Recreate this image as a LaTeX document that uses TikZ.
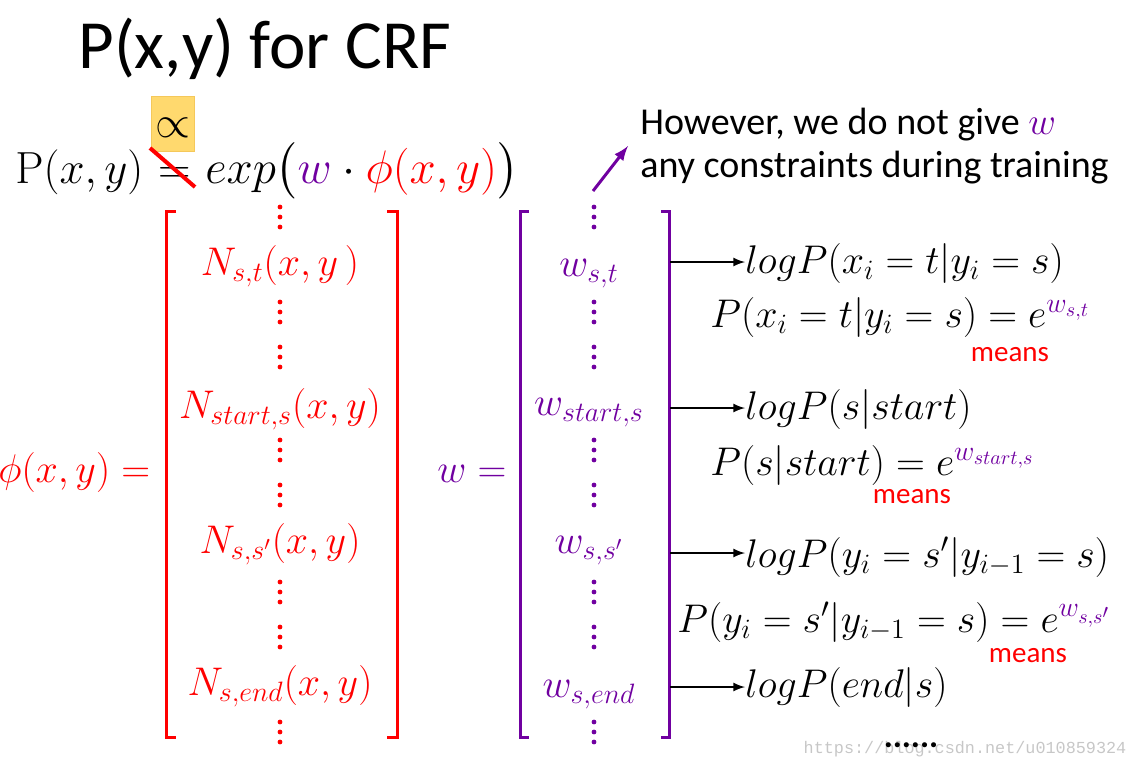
\documentclass[tikz,border=0pt]{standalone}
\usepackage{fix-cm}
\usepackage{amssymb}
\usepackage{amsmath}
\usepackage[no-math]{fontspec}
\usetikzlibrary{positioning}
\newfontfamily\calibri{Carlito}
\newfontfamily\wmfont{Liberation Mono}
\definecolor{crfred}{RGB}{255,0,0}
\definecolor{crfpurple}{RGB}{112,0,160}
\definecolor{boxyellow}{RGB}{255,217,110}
\definecolor{boxedge}{RGB}{245,200,90}

\begin{document}
\begin{tikzpicture}[x=0.5pt,y=-0.5pt,inner sep=0pt,
  bigmath/.style={font=\fontsize{22.5}{27}\selectfont},
  entry/.style={anchor=base,font=\fontsize{20}{24}\selectfont},
  sidemath/.style={anchor=base west,font=\fontsize{20}{24}\selectfont},
  meanslbl/.style={anchor=base,text=crfred,font=\calibri\fontsize{14.5}{17}\selectfont},
  notetxt/.style={anchor=base west,font=\calibri\fontsize{19}{23}\selectfont},
  bracketline/.style={line width=1.5pt},
  arr/.style={-latex,line width=1pt}]
\useasboundingbox (0,0) rectangle (1136,768);

\node[anchor=base west,font=\calibri\fontsize{34.5}{41}\selectfont] (title) at (78,68) {P(x,y) for CRF};

% P(x,y) = exp(w.phi(x,y)), with the = struck out
\node[fill=boxyellow,draw=boxedge,line width=0.4pt,minimum width=21.5pt,minimum height=27.5pt] (propbox) at (173,124) {};
\node[bigmath] (prop) at (173,128) {$\propto$};
\node[bigmath,anchor=base west] (lhs) at (15,183) {$\mathrm{P}(x,y)$};
\node[bigmath,base right=7pt of lhs] (neq) {$=$};
\node[bigmath,base right=7pt of neq,font=\fontsize{23.5}{28}\selectfont] (rhs) {$exp\big(\textcolor{crfpurple}{w}\cdot\textcolor{crfred}{\phi(x,y)}\big)$};
\draw[crfred,line width=2pt] (150,148) -- (195,187);

% phi vector
\node[anchor=base west,text=crfred,font=\fontsize{20}{24}\selectfont] (phi) at (-2,482) {$\phi(x,y) =$};
\draw[crfred,bracketline] (176,211) -- (166,211) -- (166,737) -- (176,737);
\draw[crfred,bracketline] (387,211) -- (397,211) -- (397,737) -- (387,737);
\node[entry,text=crfred] (nst) at (280,275) {$N_{s,t}(x,y\,)$};
\node[entry,text=crfred] (nss) at (280,418) {$N_{start,s}(x,y)$};
\node[entry,text=crfred] (nssp) at (280,553) {$N_{s,s'}(x,y)$};
\node[entry,text=crfred] (nse) at (280,695) {$N_{s,end}(x,y)$};

% w vector
\node[anchor=base west,text=crfpurple,font=\fontsize{20}{24}\selectfont] (weq) at (437,482) {$w =$};
\draw[crfpurple,bracketline] (529,211) -- (520,211) -- (520,737) -- (529,737);
\draw[crfpurple,bracketline] (661,211) -- (669,211) -- (669,737) -- (661,737);
\node[entry,text=crfpurple] (wst) at (589,276) {$w_{s,t}$};
\node[entry,text=crfpurple] (wss) at (589,415) {$w_{start,s}$};
\node[entry,text=crfpurple] (wssp) at (589,553) {$w_{s,s'}$};
\node[entry,text=crfpurple] (wse) at (589,697) {$w_{s,end}$};

\foreach \y in {217,312,357,450,495,592,637,732} {
  \foreach \dy in {-10,0,10} {
    \fill[crfred] (280,\y+\dy) circle (1.2pt);
    \fill[crfpurple] (594,\y+\dy) circle (1.2pt);
  }
}

% note about w
\node[notetxt] (note1) at (640,134) {However, we do not give \textcolor{crfpurple}{$w$}};
\node[notetxt] (note2) at (640,177) {any constraints during training};
\coordinate (wtop) at (593,191);
\coordinate (notept) at (628,146);
\draw[crfpurple,-latex,line width=1.5pt] (wtop) -- (notept);

% right hand side
\node[sidemath] (lp1) at (745,273) {$logP(x_i = t|y_i = s)$};
\node[sidemath] (pe1) at (710,327) {$P(x_i = t|y_i = s) = e^{\textcolor{crfpurple}{w_{s,t}}}$};
\node[meanslbl] (m1) at (1010,361) {means};
\node[sidemath] (lp2) at (745,419) {$logP(s|start)$};
\node[sidemath] (pe2) at (710,475) {$P(s|start) = e^{\textcolor{crfpurple}{w_{start,s}}}$};
\node[meanslbl] (m2) at (912,503) {means};
\node[sidemath] (lp3) at (745,567) {$logP(y_i = s'|y_{i-1} = s)$};
\node[sidemath] (pe3) at (677,632) {$P(y_i = s'|y_{i-1} = s) = e^{\textcolor{crfpurple}{w_{s,s'}}}$};
\node[meanslbl] (m3) at (1028,662) {means};
\node[sidemath] (lp4) at (745,697) {$logP(end|s)$};

\coordinate (a1) at (670,262);
\coordinate (a2) at (670,408);
\coordinate (a3) at (670,553);
\coordinate (a4) at (670,687);
\draw[arr] (a1) -- (a1 -| lp1.west);
\draw[arr] (a2) -- (a2 -| lp2.west);
\draw[arr] (a3) -- (a3 -| lp3.west);
\draw[arr] (a4) -- (a4 -| lp4.west);

\node[text=black!22,font=\wmfont\fontsize{8.4}{10}\selectfont] (wm) at (965,749) {https://blog.csdn.net/u010859324};
\node[font=\calibri\bfseries\fontsize{17}{20}\selectfont] (more) at (911,745) {......};

\end{tikzpicture}
\end{document}
